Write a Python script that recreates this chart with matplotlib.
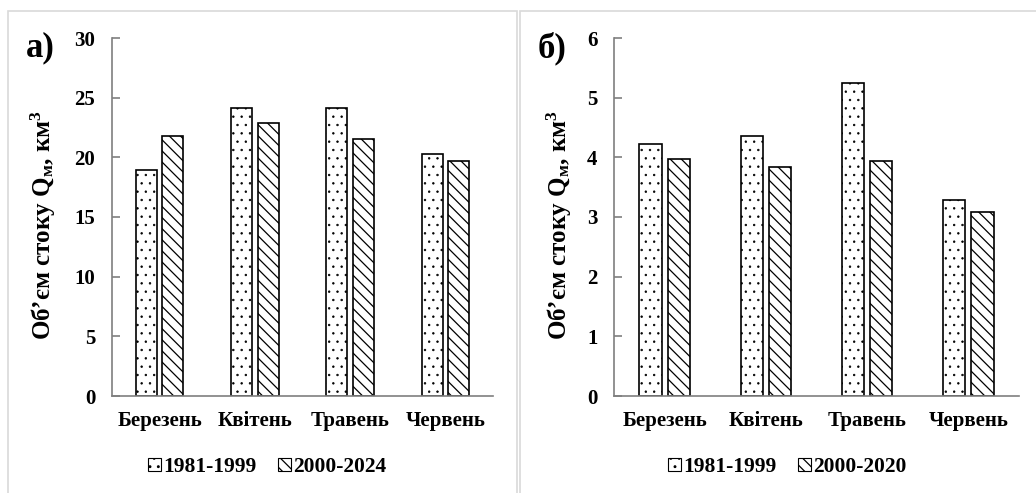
import matplotlib
matplotlib.use("Agg")
import matplotlib.pyplot as plt
from matplotlib.patches import Rectangle, Patch
import numpy as np

months = ["Березень", "Квітень", "Травень", "Червень"]

# Panel а): volumes, km³
a_period1 = [18.9, 24.1, 24.1, 20.3]
a_period2 = [21.8, 22.9, 21.5, 19.7]
a_labels = ["1981-1999", "2000-2024"]

# Panel б): volumes, km³
b_period1 = [4.22, 4.36, 5.24, 3.28]
b_period2 = [3.98, 3.84, 3.94, 3.08]
b_labels = ["1981-1999", "2000-2020"]

plt.rcParams["font.family"] = ["Liberation Serif", "DejaVu Serif"]
plt.rcParams["font.weight"] = "bold"
plt.rcParams["mathtext.fontset"] = "custom"
plt.rcParams["mathtext.rm"] = "Liberation Serif:bold"
plt.rcParams["mathtext.it"] = "Liberation Serif:bold"
plt.rcParams["mathtext.bf"] = "Liberation Serif:bold"
plt.rcParams["hatch.linewidth"] = 0.9

W, H = 1036, 493
fig = plt.figure(figsize=(W / 100, H / 100), dpi=100)

# light panel frames
for x0, x1 in [(8, 517), (520, 1040)]:
    fig.patches.append(Rectangle((x0 / W, -0.05), (x1 - x0) / W, 1.05 - 11 / H,
                                 transform=fig.transFigure, fill=False,
                                 edgecolor="#d9d9d9", linewidth=1.2, zorder=0))

ylabel = "Об’єм стоку Q$_\\mathregular{м}$, км$^\\mathregular{3}$"
DOTS = ".."
STRIPES = "\\\\\\"


def panel(rect, v1, v2, labels, ymax, step, tag, tag_x, ylab_x, leg_x):
    ax = fig.add_axes(rect)
    x = np.arange(len(months))
    w, off = 0.22, 0.14
    with plt.rc_context({"hatch.linewidth": 0.5}):
        ax.bar(x - off, v1, w, facecolor="white", edgecolor="black",
               linewidth=1.2, hatch=DOTS, label=labels[0])
    ax.bar(x + off, v2, w, facecolor="white", edgecolor="black",
           linewidth=1.2, hatch=STRIPES, label=labels[1])
    ax.set_xlim(-0.5, len(months) - 0.5)
    ax.set_ylim(0, ymax)
    ax.set_yticks(np.arange(0, ymax + step / 2, step))
    ax.set_xticks(x)
    ax.set_xticklabels(months, fontsize=15, fontweight="bold")
    ax.tick_params(axis="x", length=0, pad=11)
    ax.tick_params(axis="y", direction="in", length=6, width=1.2,
                   color="#7f7f7f", labelsize=15, pad=12)
    for lab in ax.get_yticklabels():
        lab.set_fontweight("bold")
    for s in ("top", "right"):
        ax.spines[s].set_visible(False)
    for s in ("left", "bottom"):
        ax.spines[s].set_color("#7f7f7f")
        ax.spines[s].set_linewidth(1.2)
    fig.text(ylab_x / W, 1 - 225 / H, ylabel, rotation=90, ha="center",
             va="center", fontsize=18, fontweight="bold")
    fig.text(tag_x / W, 1 - 48 / H, tag, ha="center", va="center",
             fontsize=25, fontweight="bold")
    handles = [Patch(facecolor="white", edgecolor="black", linewidth=0.8, hatch=DOTS),
               Patch(facecolor="white", edgecolor="black", linewidth=0.8, hatch=STRIPES)]
    fig.legend(handles, labels, loc="center", bbox_to_anchor=(leg_x / W, 1 - 467 / H),
               ncol=2, frameon=False, handlelength=0.6,
               handleheight=0.6, handletextpad=0.1, columnspacing=1.0,
               prop={"weight": "bold", "size": 15.5})
    return ax


panel([112 / W, 97 / H, (493 - 112) / W, 358 / H], a_period1, a_period2,
      a_labels, 30, 5, "а)", 40, 43, 267)
panel([614 / W, 97 / H, (1019 - 614) / W, 358 / H], b_period1, b_period2,
      b_labels, 6, 1, "б)", 552, 559, 787)

fig.savefig("out.png", dpi=100, facecolor="white")
